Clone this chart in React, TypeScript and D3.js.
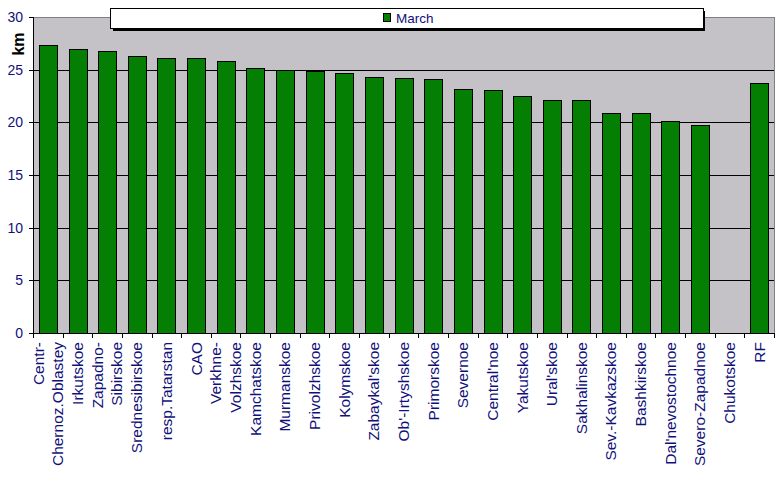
import React from "react";
import * as d3 from "d3";

const categories: string[][] = [
  ["Centr-", "Chernoz.Oblastey"],
  ["Irkutskoe"],
  ["Zapadno-", "Sibirskoe"],
  ["Srednesibirskoe"],
  ["resp.Tatarstan"],
  ["CAO"],
  ["Verkhne-", "Volzhskoe"],
  ["Kamchatskoe"],
  ["Murmanskoe"],
  ["Privolzhskoe"],
  ["Kolymskoe"],
  ["Zabaykal'skoe"],
  ["Ob'-Irtyshskoe"],
  ["Primorskoe"],
  ["Severnoe"],
  ["Central'noe"],
  ["Yakutskoe"],
  ["Ural'skoe"],
  ["Sakhalinskoe"],
  ["Sev.-Kavkazskoe"],
  ["Bashkirskoe"],
  ["Dal'nevostochnoe"],
  ["Severo-Zapadnoe"],
  ["Chukotskoe"],
  ["RF"],
];

const marchValues: number[] = [
  27.3, 27.0, 26.75, 26.3, 26.1, 26.1, 25.8, 25.2, 25.0, 24.9, 24.7, 24.3, 24.2,
  24.1, 23.15, 23.05, 22.5, 22.1, 22.1, 20.9, 20.9, 20.1, 19.75, 0, 23.7,
];

const yTicks: number[] = [0, 5, 10, 15, 20, 25, 30];
const seriesName = "March";
const yLabel = "km";

const W = 779;
const H = 482;
const left = 33;
const right = 774;
const top = 17;
const bottom = 333;
const FONT = "'Liberation Sans', Arial, sans-serif";
const TEXT = "#10107a";

export default function App() {
  const keys = categories.map((_, i) => String(i));
  const x = d3.scaleBand<string>().domain(keys).range([left, right]).paddingInner(0.4).paddingOuter(0.2);
  const xb = d3.scaleBand<string>().domain(keys).range([left, right]);
  const y = d3.scaleLinear().domain([0, 30]).range([bottom, top]);

  return (
    <div style={{ position: "absolute", left: 0, top: 0 }}>
      <svg width={W} height={H} style={{ display: "block", background: "#fff" }}>
        <rect x={left} y={top} width={right - left} height={bottom - top} fill="#c4c2c6" />
        {yTicks.filter((t) => t > 0 && t < 30).map((t) => (
          <line key={t} x1={left} x2={right} y1={Math.round(y(t)) + 0.5} y2={Math.round(y(t)) + 0.5} stroke="#000" />
        ))}
        <line x1={left} x2={right + 0.5} y1={top + 0.5} y2={top + 0.5} stroke="#808080" />
        <line x1={right + 0.5} x2={right + 0.5} y1={top} y2={bottom} stroke="#808080" />
        {marchValues.map((v, i) =>
          v > 0 ? (
            <rect
              key={i}
              x={Math.round(x(String(i))!) + 0.5}
              y={Math.round(y(v)) + 0.5}
              width={Math.round(x.bandwidth())}
              height={Math.round(y(0)) - Math.round(y(v))}
              fill="#047f04"
              stroke="#000"
              strokeWidth={1}
            />
          ) : null
        )}
        {/* axes */}
        <line x1={left + 0.5} x2={left + 0.5} y1={top} y2={bottom + 1} stroke="#000" />
        <line x1={left - 4} x2={right} y1={bottom + 0.5} y2={bottom + 0.5} stroke="#000" />
        {yTicks.map((t) => (
          <g key={t}>
            <line x1={left - 4} x2={left} y1={Math.round(y(t)) + 0.5} y2={Math.round(y(t)) + 0.5} stroke="#000" />
            <text x={left - 10} y={y(t) + 5} textAnchor="end" fontFamily={FONT} fontSize={14} fill={TEXT}>
              {t}
            </text>
          </g>
        ))}
        {keys.map((k) => (
          <line key={k} x1={Math.round(xb(k)!) + 0.5} x2={Math.round(xb(k)!) + 0.5} y1={bottom} y2={bottom + 5} stroke="#000" />
        ))}
        <line x1={right + 0.5} x2={right + 0.5} y1={bottom} y2={bottom + 5} stroke="#000" />
        {categories.map((lines, i) => {
          const cx = xb(String(i))! + xb.bandwidth() / 2;
          const lh = 19.5;
          return lines.map((ln, j) => {
            const lx = cx + (j - (lines.length - 1) / 2) * lh + 5.5;
            return (
              <text
                key={i + "-" + j}
                transform={`translate(${lx},${bottom + 9}) rotate(-90)`}
                textAnchor="end"
                fontFamily={FONT}
                fontSize={15.5}
                fill={TEXT}
              >
                {ln}
              </text>
            );
          });
        })}
        <text
          transform={`translate(24,44) rotate(-90)`}
          textAnchor="middle"
          fontFamily={FONT}
          fontSize={16}
          fontWeight="bold"
          fill="#000"
        >
          {yLabel}
        </text>
        {/* legend */}
        <rect x={113} y={11} width={592} height={20} fill="#000" />
        <rect x={110.5} y={8.5} width={593} height={20} fill="#fff" stroke="#000" />
        <rect x={383.5} y={13.5} width={7} height={8} fill="#047f04" stroke="#000" />
        <text x={396} y={23} fontFamily={FONT} fontSize={13.5} fill={TEXT}>
          {seriesName}
        </text>
      </svg>
    </div>
  );
}
